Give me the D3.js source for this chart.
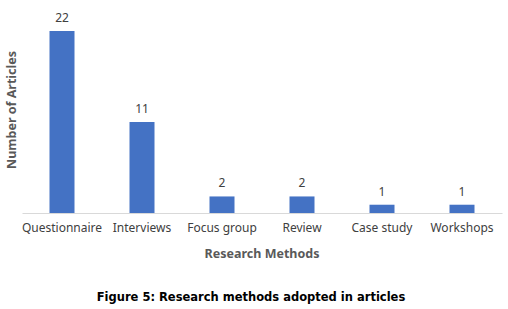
<!DOCTYPE html>
<html>
<head>
<meta charset="utf-8">
<script src="https://cdn.jsdelivr.net/npm/d3@7"></script>
<style>
  body { margin: 0; background: #fff; }
</style>
</head>
<body>
<div id="chart"></div>
<script>
const methods = ['Questionnaire', 'Interviews', 'Focus group', 'Review', 'Case study', 'Workshops'];
const articleCounts = [22, 11, 2, 2, 1, 1];

const W = 508, H = 309;
const baseY = 213;

const svg = d3.select('#chart')
  .append('svg')
  .attr('width', W)
  .attr('height', H)
  .style('font-family', '"Noto Sans", sans-serif');

const x = d3.scaleBand()
  .domain(methods)
  .range([22, 502])
  .paddingInner(0.6875)
  .paddingOuter(0.34375);

const y = d3.scaleLinear()
  .domain([0, 22])
  .range([baseY, 31]);

const data = methods.map((m, i) => ({ method: m, count: articleCounts[i] }));

// bars
svg.selectAll('rect.bar')
  .data(data)
  .enter()
  .append('rect')
  .attr('class', 'bar')
  .attr('x', d => x(d.method))
  .attr('y', d => y(d.count))
  .attr('width', x.bandwidth())
  .attr('height', d => baseY - y(d.count))
  .attr('fill', '#4472c4');

// baseline axis
const xAxis = svg.append('g')
  .attr('transform', 'translate(0,' + baseY + ')')
  .call(d3.axisBottom(x).tickSize(0).tickPadding(10));
xAxis.select('.domain').attr('stroke', '#d9d9d9').attr('stroke-width', 1);
xAxis.selectAll('text')
  .attr('fill', '#404040')
  .style('font-size', '12px')
  .style('font-family', '"Noto Sans", sans-serif');

// value labels
svg.selectAll('text.val')
  .data(data)
  .enter()
  .append('text')
  .attr('class', 'val')
  .attr('x', d => x(d.method) + x.bandwidth() / 2)
  .attr('y', d => y(d.count) - 9)
  .attr('text-anchor', 'middle')
  .attr('fill', '#404040')
  .style('font-size', '12px')
  .text(d => d.count);

// axis titles
svg.append('text')
  .attr('x', 262)
  .attr('y', 258)
  .attr('text-anchor', 'middle')
  .attr('fill', '#595959')
  .style('font-size', '12.5px')
  .style('font-weight', 'bold')
  .text('Research Methods');

svg.append('text')
  .attr('transform', 'translate(16,110) rotate(-90)')
  .attr('text-anchor', 'middle')
  .attr('fill', '#595959')
  .style('font-size', '12.5px')
  .style('font-weight', 'bold')
  .text('Number of Articles');

// figure caption
svg.append('text')
  .attr('x', 251)
  .attr('y', 301)
  .attr('text-anchor', 'middle')
  .attr('fill', '#000')
  .style('font-family', '"DejaVu Sans", sans-serif')
  .style('font-size', '11.5px')
  .style('font-weight', 'bold')
  .text('Figure 5: Research methods adopted in articles');
</script>
</body>
</html>
